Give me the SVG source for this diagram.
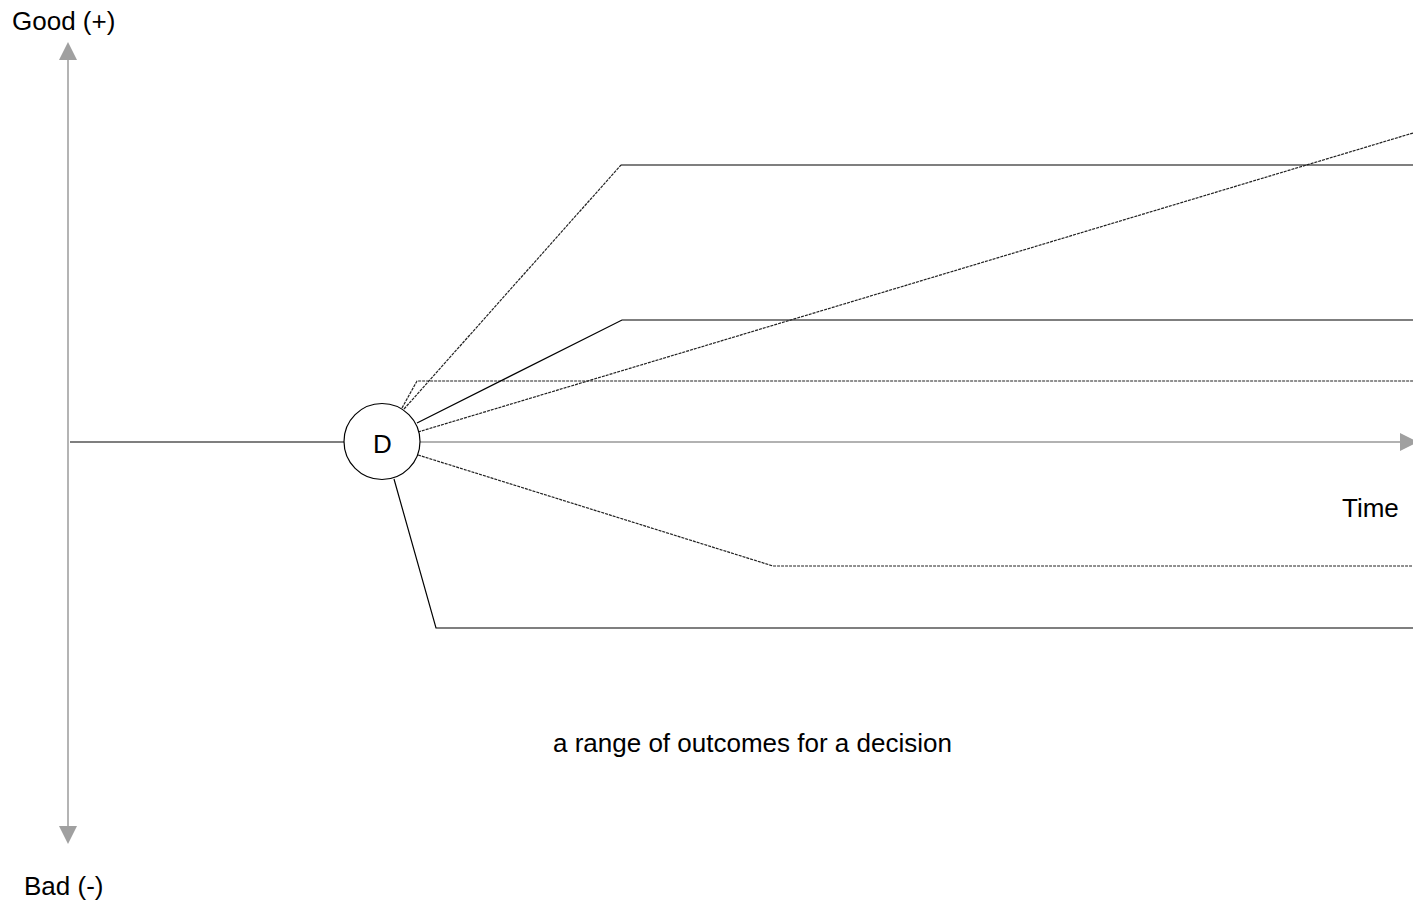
<svg xmlns="http://www.w3.org/2000/svg" width="1413" height="905" viewBox="0 0 1413 905">
  <style>
    .label { font-family: "Liberation Sans", Arial, sans-serif; font-size: 26px; fill: #000; }
    .axis { stroke: #b4b4b4; stroke-width: 2; fill: none; }
    .haxis { stroke: #999; stroke-width: 1.3; fill: none; }
    .solid { stroke: #000; stroke-width: 1.2; fill: none; }
    .dotted { stroke: #222; stroke-width: 1.2; fill: none; stroke-dasharray: 3 1; }
  </style>
  <rect width="1413" height="905" fill="#fff"/>

  <!-- axes -->
  <g id="axes">
    <path d="M68,441 L68,60" class="axis"/>
    <path d="M59,60 L68,42 L77,60 z" fill="#a0a0a0"/>
    <path d="M68,441 L68,826" class="axis"/>
    <path d="M59,826 L68,844 L77,826 z" fill="#a0a0a0"/>
    <path d="M420,442 L1401,442" class="haxis"/>
    <path d="M1400,433 L1418,442 L1400,451 z" fill="#a0a0a0"/>
  </g>

  <!-- outcome paths -->
  <g id="connectors">
    <path d="M70,442 L344,442" class="solid"/>
    <path d="M404,409 L621,165" class="dotted"/>
    <path d="M621,165 L1413,165" class="solid"/>
    <path d="M402,408 L417,381 L1413,381" class="dotted"/>
    <path d="M417,423 L622,320 L1413,320" class="solid"/>
    <path d="M418,432 L1413,133" class="dotted"/>
    <path d="M418,455 L773,566 L1413,566" class="dotted"/>
    <path d="M394,479 L436,628 L1413,628" class="solid"/>
  </g>

  <g id="decision">
    <circle cx="382" cy="441.5" r="38" fill="#fff" stroke="#000" stroke-width="1.2"/>
    <text x="382.5" y="452.5" class="label" text-anchor="middle" font-size="29">D</text>
  </g>

  <g id="labels">
    <text x="12" y="30" class="label">Good (+)</text>
    <text x="24" y="895" class="label">Bad (-)</text>
    <text x="1342" y="517" class="label">Time</text>
    <text x="553" y="752" class="label">a range of outcomes for a decision</text>
  </g>
</svg>
